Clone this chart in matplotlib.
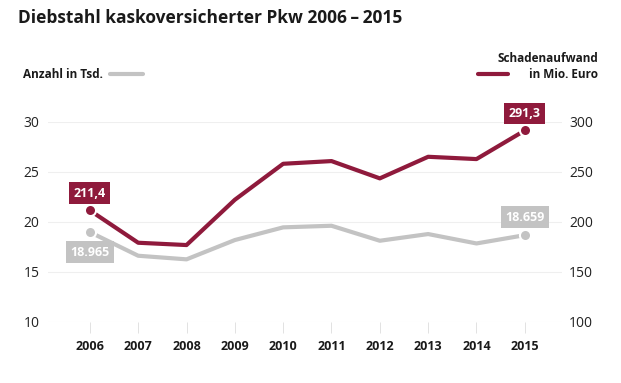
import numpy as np
import matplotlib.pyplot as plt

plt.rcParams['font.family'] = ['Open Sans', 'DejaVu Sans']

# data ------------------------------------------------------------
years = [2006, 2007, 2008, 2009, 2010, 2011, 2012, 2013, 2014, 2015]
anzahl = [18.965, 16.6, 16.24, 18.17, 19.44, 19.6, 18.1, 18.77, 17.83, 18.659]   # Tsd.
aufwand = [211.4, 179.0, 176.7, 222.0, 258.0, 260.7, 243.4, 265.0, 262.7, 291.3]  # Mio. Euro
left_ticks = [10, 15, 20, 25, 30]
right_ticks = [100, 150, 200, 250, 300]

red = '#8f1a3c'
grey = '#c3c3c3'

fig = plt.figure(figsize=(6.21, 3.83), dpi=100)
ax1 = fig.add_axes([0.077, 0.160, 0.828, 0.522])
ax2 = ax1.twinx()

# grid on left axis
ax1.set_xlim(2005.13, 2015.77)
ax1.set_ylim(10, 30)
ax2.set_ylim(100, 300)
for v in left_ticks:
    ax1.axhline(v, color='#efefef', lw=0.8, zorder=0)

ax1.plot(years, anzahl, color=grey, lw=3, solid_capstyle='round', zorder=2)
ax1.plot([years[0], years[-1]], [anzahl[0], anzahl[-1]], 'o', ms=8,
         color=grey, mec='white', mew=1.5, zorder=3)
ax2.plot(years, aufwand, color=red, lw=3, solid_capstyle='round', zorder=2)
ax2.plot([years[0], years[-1]], [aufwand[0], aufwand[-1]], 'o', ms=8,
         color=red, mec='white', mew=1.5, zorder=3)

for ax in (ax1, ax2):
    for s in ax.spines.values():
        s.set_visible(False)

ax1.set_yticks(left_ticks)
ax1.set_yticklabels([str(v) for v in left_ticks])
ax1.tick_params(axis='y', length=0, labelsize=10, pad=6, colors='#222222')
ax2.set_yticks(right_ticks)
ax2.set_yticklabels([str(v) for v in right_ticks])
ax2.tick_params(axis='y', length=0, labelsize=10, pad=5, colors='#222222')

ax1.set_xticks(years)
ax1.set_xticklabels([str(y) for y in years], fontweight='bold', fontsize=9)
ax1.tick_params(axis='x', length=8, width=0.6, color='#dddddd', pad=5, labelcolor='#1a1a1a')

# value boxes
def box(ax, x, y, txt, fc, dy):
    ax.annotate(txt, (x, y), xytext=(0, dy), textcoords='offset pixels',
                ha='center', va='center', color='white', fontsize=9,
                fontweight='bold', annotation_clip=False, zorder=5,
                bbox=dict(boxstyle='square,pad=0.35', fc=fc, ec='none'))

box(ax2, years[0], aufwand[0], '211,4', red, 17)
box(ax2, years[-1], aufwand[-1], '291,3', red, 17)
box(ax1, years[0], anzahl[0], '18.965', grey, -20)
box(ax1, years[-1], anzahl[-1], '18.659', grey, 18)

# title and legend
fig.text(18 / 621, 1 - 18 / 383, 'Diebstahl kaskoversicherter Pkw 2006\u2009\u2013\u20092015',
         fontsize=12.5, fontweight='bold', va='center', ha='left', color='#1a1a1a')
fig.text(23 / 621, 1 - 74 / 383, 'Anzahl in Tsd.', fontsize=8.5, fontweight='bold',
         va='center', ha='left', color='#1a1a1a')
fig.add_artist(plt.Line2D([110 / 621, 143 / 621], [1 - 74 / 383] * 2, color=grey, lw=3,
                          solid_capstyle='round'))
fig.text(598 / 621, 1 - 58 / 383, 'Schadenaufwand', fontsize=8.5, fontweight='bold',
         va='center', ha='right', color='#1a1a1a')
fig.text(598 / 621, 1 - 74 / 383, 'in Mio. Euro', fontsize=8.5, fontweight='bold',
         va='center', ha='right', color='#1a1a1a')
fig.add_artist(plt.Line2D([478 / 621, 508 / 621], [1 - 74 / 383] * 2, color=red, lw=3,
                          solid_capstyle='round'))

fig.savefig('out.png', dpi=100)
